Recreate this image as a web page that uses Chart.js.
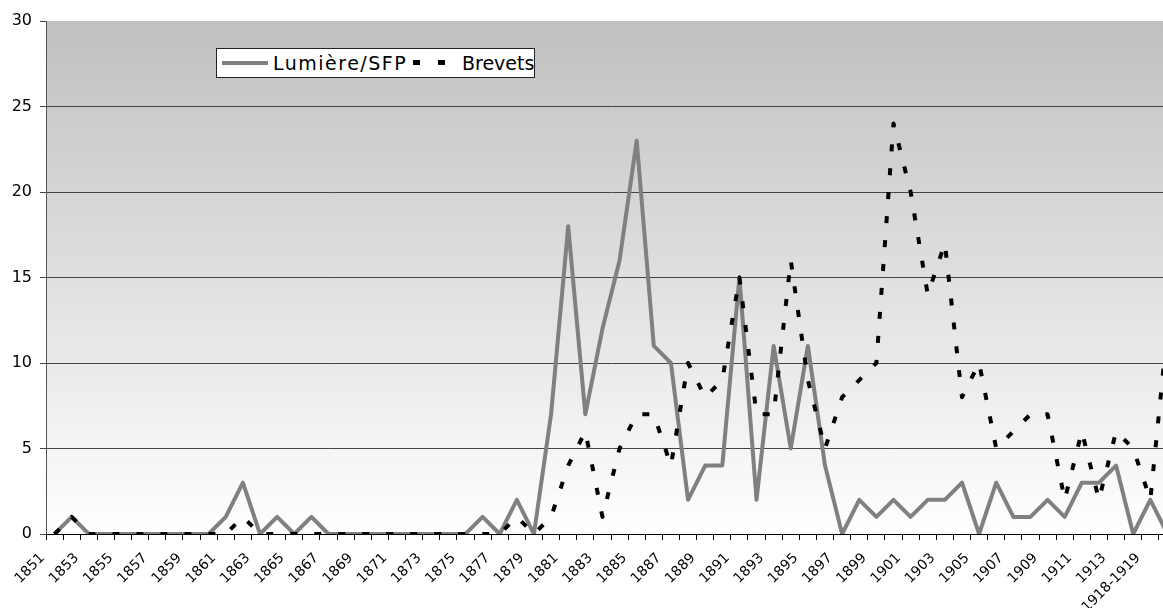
<!DOCTYPE html>
<html>
<head>
<meta charset="utf-8">
<title>Lumière/SFP et Brevets</title>
<script src="https://cdn.jsdelivr.net/npm/chart.js@4.4.0/dist/chart.umd.min.js"></script>
<style>
  html, body { margin: 0; padding: 0; background: #fff; overflow: hidden; }
  #wrap { position: relative; width: 1190px; height: 608px; }
  #legend {
    position: absolute; left: 216px; top: 48px; width: 317px; height: 28px;
    border: 1px solid #222; background: #fff;
    font-family: 'DejaVu Sans', sans-serif; font-size: 19px; color: #000;
  }
  #legend .txt { position: absolute; top: 0; line-height: 28px; white-space: nowrap; }
  #legend .mark { position: absolute; }
</style>
</head>
<body>
<div id="wrap">
  <canvas id="chart" width="1190" height="608"></canvas>
  <div id="legend"></div>
</div>
<script>
// categories (the last three are grouped periods, only 1918-1919 is labelled)
const years = [
  '1851','1852','1853','1854','1855','1856','1857','1858','1859','1860',
  '1861','1862','1863','1864','1865','1866','1867','1868','1869','1870',
  '1871','1872','1873','1874','1875','1876','1877','1878','1879','1880',
  '1881','1882','1883','1884','1885','1886','1887','1888','1889','1890',
  '1891','1892','1893','1894','1895','1896','1897','1898','1899','1900',
  '1901','1902','1903','1904','1905','1906','1907','1908','1909','1910',
  '1911','1912','1913','1914-1917','1918-1919','1920-1929'
];

const seriesNames = ['Lumière/SFP', 'Brevets'];

const lumiere = [
  0, 1, 0, 0, 0, 0, 0, 0, 0, 0,
  1, 3, 0, 1, 0, 1, 0, 0, 0, 0,
  0, 0, 0, 0, 0, 1, 0, 2, 0, 7,
  18, 7, 12, 16, 23, 11, 10, 2, 4, 4,
  15, 2, 11, 5, 11, 4, 0, 2, 1, 2,
  1, 2, 2, 3, 0, 3, 1, 1, 2, 1,
  3, 3, 4, 0, 2, 0
];

const brevets = [
  0, 1, 0, 0, 0, 0, 0, 0, 0, 0,
  0, 1, 0, 0, 0, 0, 0, 0, 0, 0,
  0, 0, 0, 0, 0, 0, 0, 1, 0, 1,
  4, 6, 1, 5, 7, 7, 4, 10, 8, 9,
  15, 7, 7, 16, 9, 5, 8, 9, 10, 24,
  20, 14, 17, 8, 10, 5, 6, 7, 7, 2,
  6, 2, 6, 5, 2, 12
];

const yTicks = [0, 5, 10, 15, 20, 25, 30];

Chart.defaults.font.family = "'DejaVu Sans', sans-serif";

// grey-to-white fill behind the plot, like the Excel gradient
const plotBackground = {
  id: 'plotBackground',
  beforeDraw(chart) {
    const { ctx, chartArea } = chart;
    const g = ctx.createLinearGradient(0, chartArea.top, 0, chartArea.bottom);
    g.addColorStop(0, '#c0c0c0');
    g.addColorStop(1, '#ffffff');
    ctx.save();
    ctx.fillStyle = g;
    ctx.fillRect(chartArea.left, chartArea.top, chartArea.right - chartArea.left, chartArea.bottom - chartArea.top);
    ctx.restore();
  }
};

new Chart(document.getElementById('chart'), {
  type: 'line',
  data: {
    labels: years,
    datasets: [{
      label: seriesNames[0],
      data: lumiere,
      borderColor: '#808080',
      borderWidth: 4,
      borderJoinStyle: 'round',
      pointRadius: 0,
      tension: 0,
      order: 2
    }, {
      label: seriesNames[1],
      data: brevets,
      borderColor: '#000000',
      borderWidth: 4,
      borderDash: [7, 17],
      borderCapStyle: 'butt',
      borderJoinStyle: 'round',
      pointRadius: 0,
      tension: 0,
      order: 1
    }]
  },
  options: {
    responsive: false,
    animation: false,
    devicePixelRatio: 1,
    events: [],
    layout: { padding: { top: 21, right: 14, left: 0, bottom: 0 } },
    plugins: {
      legend: { display: false },
      tooltip: { enabled: false }
    },
    scales: {
      x: {
        offset: true,
        grid: { offset: true, drawOnChartArea: false, tickLength: 6, tickColor: '#000' },
        border: { color: '#000' },
        ticks: {
          autoSkip: false,
          maxRotation: 45,
          minRotation: 45,
          labelOffset: -12,
          padding: 10,
          color: '#000',
          font: { size: 14 },
          callback: function (value, index) {
            return index % 2 === 0 ? years[index] : '';
          }
        },
        afterFit: function (scale) { scale.height = 74; }
      },
      y: {
        min: yTicks[0],
        max: yTicks[yTicks.length - 1],
        afterBuildTicks: function (scale) {
          scale.ticks = yTicks.map(v => ({ value: v }));
        },
        ticks: { color: '#000', font: { size: 16 }, padding: 8 },
        grid: {
          color: function (ctx) { return ctx.tick && ctx.tick.value === 30 ? 'rgba(0,0,0,0)' : '#444'; },
          tickColor: '#444',
          tickLength: 6
        },
        border: { color: '#555' },
        afterFit: function (scale) { scale.width = 46; }
      }
    }
  },
  plugins: [plotBackground]
});

// legend box drawn over the plot
const legend = document.getElementById('legend');
const legendItems = [
  { kind: 'line', left: 5, width: 46, color: '#808080', textLeft: 56, spacing: 1.5 },
  { kind: 'dash', left: 196, width: 7, gap: 18, color: '#000', textLeft: 245, spacing: 0 }
];
legendItems.forEach((item, i) => {
  if (item.kind === 'line') {
    const m = document.createElement('div');
    m.className = 'mark';
    m.style.cssText = `left:${item.left}px;top:12px;width:${item.width}px;height:4px;background:${item.color}`;
    legend.appendChild(m);
  } else {
    [0, 1].forEach(k => {
      const m = document.createElement('div');
      m.className = 'mark';
      m.style.cssText = `left:${item.left + k * (item.width + item.gap)}px;top:11px;width:${item.width}px;height:5px;background:${item.color}`;
      legend.appendChild(m);
    });
  }
  const t = document.createElement('span');
  t.className = 'txt';
  t.style.left = item.textLeft + 'px';
  t.style.letterSpacing = item.spacing + 'px';
  t.textContent = seriesNames[i];
  legend.appendChild(t);
});
</script>
</body>
</html>
